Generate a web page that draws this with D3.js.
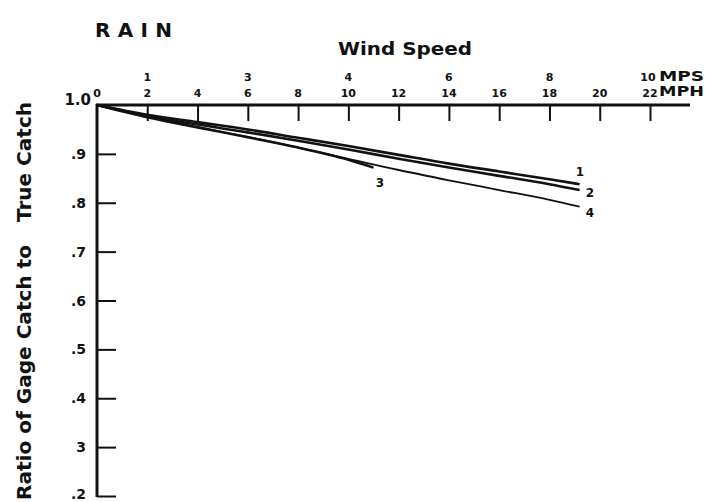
<!DOCTYPE html>
<html>
<head>
<meta charset="utf-8">
<script src="https://cdn.jsdelivr.net/npm/d3@7"></script>
<style>
  body { margin: 0; background: #fff; }
  text { font-family: "DejaVu Sans", sans-serif; font-weight: bold; fill: #111; }
</style>
</head>
<body>
<script>
const width = 711,
      height = 502;

// wind speed (mph) ticks and mps labels placed above matching mph ticks
const mphTicks = [0, 2, 4, 6, 8, 10, 12, 14, 16, 18, 20, 22];
const mpsLabels = [{mph: 2, t: "1"}, {mph: 6, t: "3"}, {mph: 10, t: "4"},
                   {mph: 14, t: "6"}, {mph: 18, t: "8"}, {mph: 22, t: "10"}];
const ratioTicks = [1.0, 0.9, 0.8, 0.7, 0.6, 0.5, 0.4, 0.3, 0.2];
const ratioLabels = ["1.0", ".9", ".8", ".7", ".6", ".5", ".4", "3", ".2"];

// gage curves
const curve1 = [[0, 1.0], [2, 0.980], [4, 0.965], [6, 0.950], [8, 0.933], [10, 0.916], [12, 0.898], [14, 0.880], [16, 0.864], [18, 0.848], [19.2, 0.838]];
const curve2 = [[0, 1.0], [2, 0.978], [4, 0.960], [6, 0.944], [8, 0.927], [10, 0.909], [12, 0.890], [14, 0.872], [16, 0.855], [18, 0.838], [19.2, 0.826]];
const curve3 = [[0, 1.0], [2, 0.975], [4, 0.954], [6, 0.934], [8, 0.913], [10, 0.888], [11, 0.872]];
const curve4 = [[0, 1.0], [2, 0.976], [4, 0.955], [6, 0.935], [8, 0.913], [10, 0.890], [12, 0.867], [14, 0.846], [16, 0.826], [18, 0.806], [19.2, 0.792]];
const curves = [
    {name: "1", pts: curve1, lx: 580, ly: 176, w: 2.6},
    {name: "2", pts: curve2, lx: 590, ly: 197, w: 2.6},
    {name: "3", pts: curve3, lx: 380, ly: 187, w: 2.4},
    {name: "4", pts: curve4, lx: 590, ly: 217, w: 1.8}
];

let svg = d3.select("body").append("svg")
    .attr("width", width)
    .attr("height", height);

let x = d3.scaleLinear().domain([0, 22]).range([97, 650]);
let y = d3.scaleLinear().domain([0.2, 1.0]).range([496, 105]);

// top axis (mph)
let xAxis = d3.axisBottom(x).tickValues(mphTicks.slice(1)).tickSize(16).tickFormat("");
svg.append("g")
    .attr("transform", "translate(0," + y(1.0) + ")")
    .call(xAxis)
    .call(g => g.select(".domain").remove())
    .call(g => g.selectAll("line").attr("stroke", "#111").attr("stroke-width", 2));

svg.append("line")
    .attr("x1", x(0) - 1).attr("x2", 690)
    .attr("y1", y(1.0)).attr("y2", y(1.0))
    .attr("stroke", "#111").attr("stroke-width", 3);

svg.selectAll(".mph")
    .data(mphTicks)
    .enter().append("text")
    .attr("x", d => x(d))
    .attr("y", 97)
    .attr("text-anchor", "middle")
    .style("font-size", "11px")
    .text(d => d);

svg.selectAll(".mps")
    .data(mpsLabels)
    .enter().append("text")
    .attr("x", d => x(d.mph) - (d.t === "10" ? 2 : 0))
    .attr("y", 81)
    .attr("text-anchor", "middle")
    .style("font-size", "11px")
    .text(d => d.t);

svg.append("text").attr("x", 659).attr("y", 81).style("font-size", "14px")
    .attr("textLength", 45).attr("lengthAdjust", "spacingAndGlyphs").text("MPS");
svg.append("text").attr("x", 659).attr("y", 96).style("font-size", "14px")
    .attr("textLength", 45).attr("lengthAdjust", "spacingAndGlyphs").text("MPH");

// left axis (ratio)
let yAxis = d3.axisRight(y).tickValues(ratioTicks.slice(1)).tickSize(19).tickFormat("");
svg.append("g")
    .attr("transform", "translate(" + x(0) + ",0)")
    .call(yAxis)
    .call(g => g.select(".domain").remove())
    .call(g => g.selectAll("line").attr("stroke", "#111").attr("stroke-width", 2));

svg.append("line")
    .attr("x1", x(0)).attr("x2", x(0))
    .attr("y1", y(1.0) - 1).attr("y2", y(0.2) + 1)
    .attr("stroke", "#111").attr("stroke-width", 3);

svg.selectAll(".ylab")
    .data(ratioTicks)
    .enter().append("text")
    .attr("x", d => d === 1.0 ? 91 : 86)
    .attr("y", d => d === 1.0 ? y(d) : Math.min(y(d) + 5, 499))
    .attr("text-anchor", "end")
    .style("font-size", (d, i) => i === 0 ? "15px" : "14px")
    .text((d, i) => ratioLabels[i]);

// curves
let line = d3.line()
    .x(d => x(d[0]))
    .y(d => y(d[1]))
    .curve(d3.curveMonotoneX);

svg.selectAll(".curve")
    .data(curves)
    .enter().append("path")
    .attr("d", d => line(d.pts))
    .attr("fill", "none")
    .attr("stroke", "#111")
    .attr("stroke-width", d => d.w);

svg.selectAll(".clab")
    .data(curves)
    .enter().append("text")
    .attr("x", d => d.lx)
    .attr("y", d => d.ly)
    .attr("text-anchor", "middle")
    .style("font-size", "12px")
    .text(d => d.name);

// titles
svg.append("text")
    .attr("x", 95).attr("y", 37)
    .style("font-size", "20px")
    .attr("textLength", 77)
    .attr("lengthAdjust", "spacing")
    .text("RAIN");

svg.append("text")
    .attr("x", 405).attr("y", 55)
    .attr("text-anchor", "middle")
    .style("font-size", "17px")
    .attr("textLength", 134)
    .attr("lengthAdjust", "spacingAndGlyphs")
    .text("Wind Speed");

svg.append("text")
    .attr("transform", "translate(31,500)rotate(-90)")
    .style("font-size", "20px")
    .attr("textLength", 255)
    .attr("lengthAdjust", "spacingAndGlyphs")
    .text("Ratio of Gage Catch to");

svg.append("text")
    .attr("transform", "translate(31,222)rotate(-90)")
    .style("font-size", "20px")
    .attr("textLength", 120)
    .attr("lengthAdjust", "spacingAndGlyphs")
    .text("True Catch");
</script>
</body>
</html>
